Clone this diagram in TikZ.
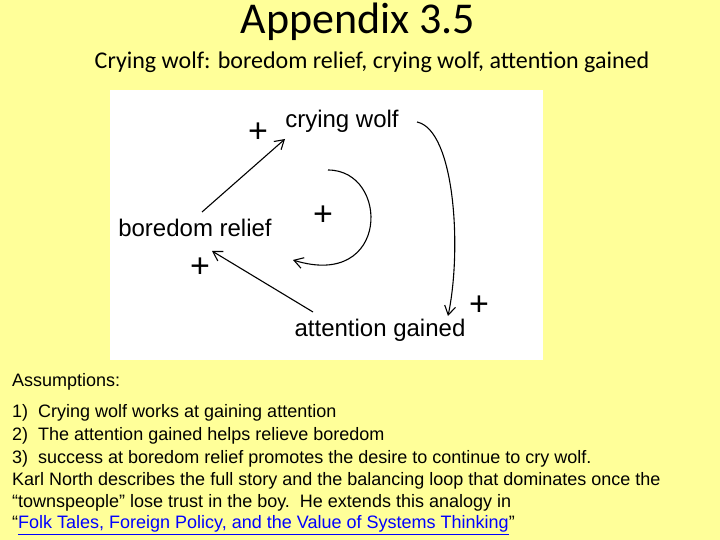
\documentclass[tikz,border=0pt]{standalone}
\usepackage{fontspec}
\setmainfont{Liberation Sans}
\newfontfamily\titlefont{Carlito}
\usetikzlibrary{positioning,arrows.meta}
\definecolor{bgyellow}{HTML}{FFFF99}
\definecolor{linkblue}{HTML}{0000FF}
\tikzset{
  var/.style={font=\fontsize{24}{24}\selectfont, inner sep=1pt},
  sign/.style={font=\fontsize{34}{34}\selectfont, inner sep=0pt},
  link/.style={-{Straight Barb[length=9pt,width=11pt]}, line width=1.1pt},
  txt/.style={anchor=west, font=\fontsize{18}{18}\selectfont, inner sep=0pt}
}
\begin{document}
\begin{tikzpicture}[x=1pt,y=-1pt]
		\fill[bgyellow] (0,0) rectangle (720,540);
		\useasboundingbox (0,0) rectangle (720,540);
		\fill[white] (110,90) rectangle (543,360);

		\node (title) at (358,22) {\titlefont\fontsize{44}{44}\selectfont Appendix 3.5};
		\node (sub) at (372,62) {\titlefont\fontsize{24}{24}\selectfont Crying wolf: boredom relief, crying wolf, attention gained};

		\node[var] (wolf) at (342,121) {crying wolf};
		\node[var] (bore) at (195,228) {boredom relief};
		\node[var] (att) at (380,330) {attention gained};

		\node[sign] (s1) at (258,133) {+};
		\node[sign] (s2) at (323,216) {+};
		\node[sign] (s3) at (200,268) {+};
		\node[sign] (s4) at (479,306) {+};

		\coordinate (a1) at (202,212);
		\coordinate (a2) at (285,139);
		\coordinate (b1) at (313,312);
		\coordinate (b2) at (212,251);
		\coordinate (c1) at (417,122);
		\coordinate (c2) at (448,316);
		\coordinate (l1) at (328,170);
		\coordinate (l2) at (293,260);

		\draw[link] (a1) -- (a2);
		\draw[link] (b1) -- (b2);
		\draw[link] (c1) .. controls (455,130) and (462,250) .. (c2);
		\draw[link] (l1) .. controls (390,170) and (390,290) .. (l2);

		\node[txt] (t1) at (12,382) {Assumptions:};
		\node[txt] (t2) at (12,413) {1)\ \ Crying wolf works at gaining attention};
		\node[txt] (t3) at (12,436) {2)\ \ The attention gained helps relieve boredom};
		\node[txt] (t4) at (12,459) {3)\ \ success at boredom relief promotes the desire to continue to cry wolf.};
		\node[txt] (t5) at (12,481) {Karl North describes the full story and the balancing loop that dominates once the};
		\node[txt] (t6) at (12,503) {“townspeople” lose trust in the boy.\ \ He extends this analogy in};
		\node[txt] (t7) at (12,525) {“\textcolor{linkblue}{\underline{Folk Tales, Foreign Policy, and the Value of Systems Thinking}}”};
	\end{tikzpicture}
\end{document}
